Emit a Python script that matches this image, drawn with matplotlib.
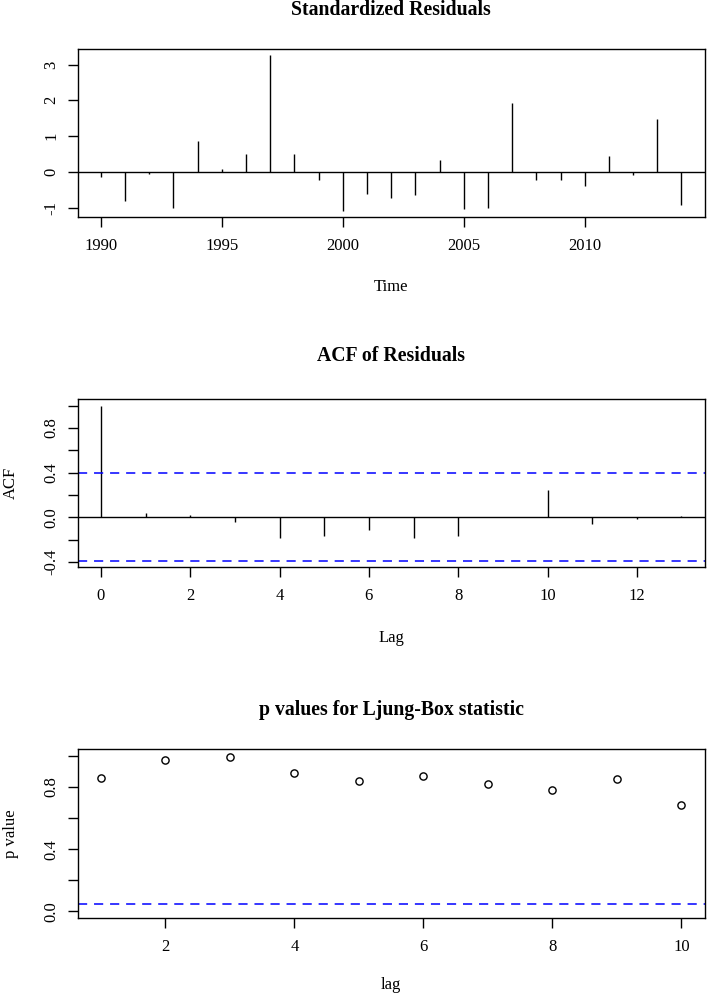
import matplotlib
matplotlib.use('Agg')
import matplotlib.pyplot as plt
import numpy as np

# ---- data ----
years = list(range(1990, 2015))
std_resid = [-0.14, -0.83, -0.06, -1.02, 0.85, 0.065, 0.49, 3.26, 0.50, -0.22,
             -1.09, -0.62, -0.74, -0.64, 0.32, -1.05, -1.02, 1.91, -0.23, -0.23,
             -0.39, 0.44, -0.10, 1.49, -0.93]
acf_lags = list(range(0, 14))
acf_vals = [1.0, 0.036, 0.018, -0.042, -0.185, -0.17, -0.116, -0.182, -0.17,
            0.004, 0.248, -0.057, -0.015, 0.015]
acf_ci = 0.392
lb_lags = list(range(1, 11))
lb_pvals = [0.854, 0.974, 0.989, 0.887, 0.837, 0.867, 0.816, 0.777, 0.850, 0.681]
p_thresh = 0.05

titles = ["Standardized Residuals", "ACF of Residuals", "p values for Ljung-Box statistic"]
xlabels = ["Time", "Lag", "lag"]
ylabels = ["", "ACF", "p value"]

plt.rcParams['font.family'] = ['Liberation Serif', 'DejaVu Serif']

W, H = 708, 999
fig = plt.figure(figsize=(W / 100, H / 100), dpi=100)

def px_axes(x0, y0, x1, y1):
    return fig.add_axes([x0 / W, 1 - y1 / H, (x1 - x0) / W, (y1 - y0) / H])

def rpad(lo, hi):
    d = (hi - lo) * 0.04
    return lo - d, hi + d

FS = 12
def style(ax, yticks, ylabels_t, xticks, xlabels_t):
    for s in ax.spines.values():
        s.set_linewidth(1.0)
    ax.set_yticks(yticks)
    ax.set_yticklabels(ylabels_t)
    ax.set_xticks(xticks)
    ax.set_xticklabels(xlabels_t)
    ax.tick_params(axis='both', direction='out', length=7.2, width=1.0,
                   labelsize=FS, colors='black')
    ax.tick_params(axis='x', pad=8)
    ax.tick_params(axis='y', pad=6)
    for lab in ax.get_yticklabels():
        lab.set_rotation(90)
        lab.set_va('center')

L, R = 77.7, 704.7
XC = (L + R) / 2
DASH = (0, (6, 4.5))

# Panel 1
ax1 = px_axes(L, 49, R, 217)
ax1.vlines(years, 0, std_resid, color='black', linewidth=1.0)
ax1.axhline(0, color='black', linewidth=1.0)
ax1.set_xlim(*rpad(min(years), max(years)))
ax1.set_ylim(*rpad(min(std_resid), max(std_resid)))
style(ax1, [-1, 0, 1, 2, 3], ['-1', '0', '1', '2', '3'],
      [1990, 1995, 2000, 2005, 2010], ['1990', '1995', '2000', '2005', '2010'])

# Panel 2
ax2 = px_axes(L, 399.3, R, 567.3)
ax2.vlines(acf_lags, 0, acf_vals, color='black', linewidth=1.0)
ax2.axhline(0, color='black', linewidth=1.0)
for v in (acf_ci, -acf_ci):
    ax2.axhline(v, color='#0000ff', linewidth=1.1, linestyle=DASH)
ax2.set_xlim(*rpad(min(acf_lags), max(acf_lags)))
ax2.set_ylim(*rpad(min(min(acf_vals), -acf_ci), max(max(acf_vals), acf_ci)))
yt2 = [-0.4, -0.2, 0.0, 0.2, 0.4, 0.6, 0.8, 1.0]
yl2 = ['-0.4', '', '0.0', '', '0.4', '', '0.8', '']
style(ax2, yt2, yl2, [0, 2, 4, 6, 8, 10, 12], ['0', '2', '4', '6', '8', '10', '12'])

# Panel 3
ax3 = px_axes(L, 749.3, R, 917.7)
ax3.plot(lb_lags, lb_pvals, linestyle='none', marker='o', markersize=5.2,
         markerfacecolor='none', markeredgecolor='black', markeredgewidth=1.0)
ax3.axhline(p_thresh, color='#0000ff', linewidth=1.1, linestyle=DASH)
ax3.set_xlim(*rpad(min(lb_lags), max(lb_lags)))
ax3.set_ylim(*rpad(0, 1))
yt3 = [0.0, 0.2, 0.4, 0.6, 0.8, 1.0]
yl3 = ['0.0', '', '0.4', '', '0.8', '']
style(ax3, yt3, yl3, [2, 4, 6, 8, 10], ['2', '4', '6', '8', '10'])

# Titles
for t, yb in zip(titles, [15, 360.7, 715]):
    fig.text(XC / W, 1 - yb / H, t, ha='center', va='baseline',
             fontsize=14.2, fontweight='bold')

# x labels
for t, yc in zip(xlabels, [287, 638, 985]):
    fig.text(XC / W, 1 - yc / H, t, ha='center', va='center', fontsize=FS)

# y labels
for t, (y0, y1) in zip(ylabels, [(49, 217), (399.3, 567.3), (749.3, 917.7)]):
    if t:
        fig.text(11 / W, 1 - ((y0 + y1) / 2) / H, t, ha='center', va='center',
                 rotation=90, fontsize=FS)

fig.savefig('out.png', dpi=100, facecolor='white')
